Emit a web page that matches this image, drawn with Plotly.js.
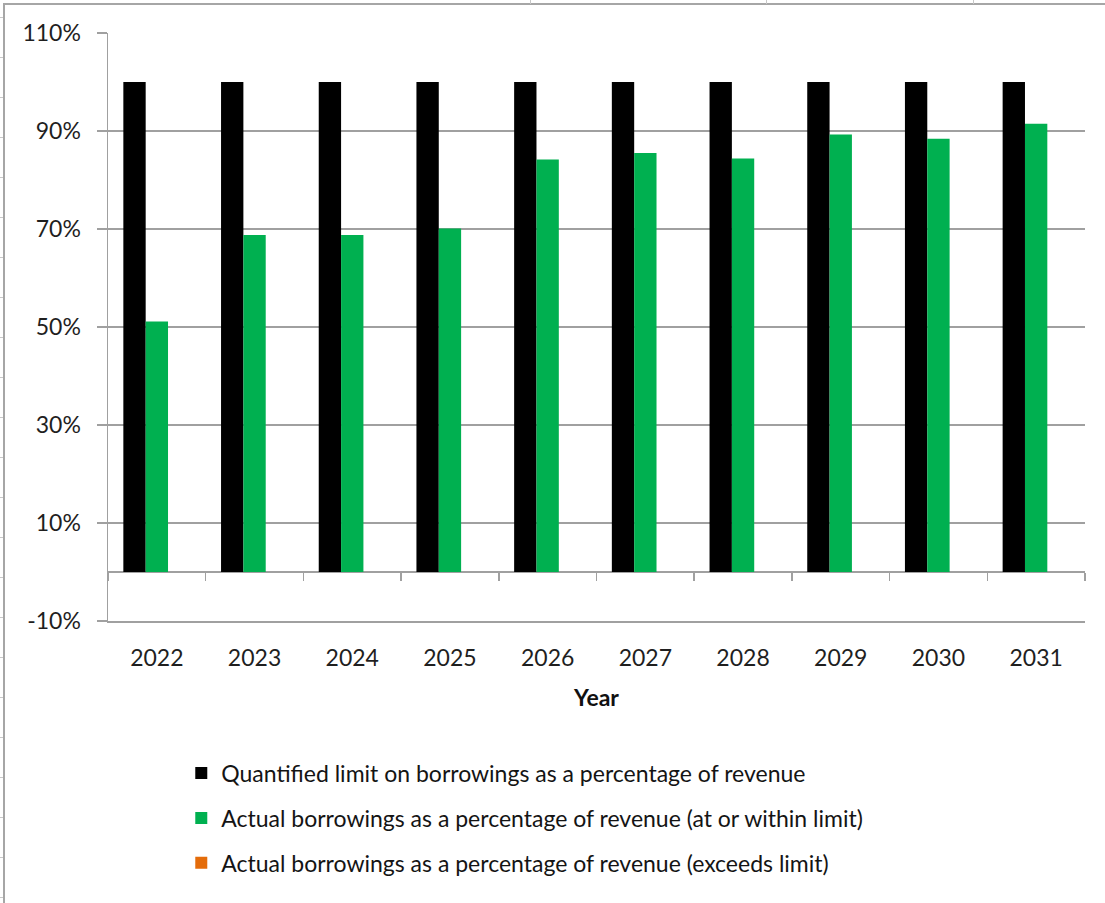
<!DOCTYPE html>
<html>
<head>
<meta charset="utf-8">
<script src="https://cdn.plot.ly/plotly-3.0.1.min.js"></script>
<style>
  html, body { margin: 0; padding: 0; background: #ffffff; }
  #chart { position: absolute; left: 0; top: 0; width: 1105px; height: 903px; }
  #frame { position: absolute; left: 3px; top: 3px; width: 1110px; height: 910px;
           border-top: 2px solid #a6a6a6; border-left: 2px solid #a6a6a6; pointer-events: none; }
  .cellmark { position: absolute; background: #c8c8c8; pointer-events: none; }
</style>
</head>
<body>
<div id="chart"></div>
<div id="frame"></div>
<script>
// ---- data ----
const years = ["2022", "2023", "2024", "2025", "2026", "2027", "2028", "2029", "2030", "2031"];
const limitValues = [100, 100, 100, 100, 100, 100, 100, 100, 100, 100];
const actualWithin = [51.1, 68.8, 68.8, 70.1, 84.2, 85.5, 84.4, 89.3, 88.4, 91.5];
const actualExceeds = [null, null, null, null, null, null, null, null, null, null];
const seriesNames = [
  "Quantified limit on borrowings as a percentage of revenue",
  "Actual borrowings as a percentage of revenue (at or within limit)",
  "Actual borrowings as a percentage of revenue (exceeds limit)"
];
const yTickValues = [-10, 10, 30, 50, 70, 90, 110];

// spreadsheet cell marks outside the chart frame
(function () {
  const topMarks = [530, 766, 973];
  topMarks.forEach(function (x) {
    const d = document.createElement('div');
    d.className = 'cellmark';
    d.style.left = x + 'px'; d.style.top = '0px'; d.style.width = '1px'; d.style.height = '4px';
    document.body.appendChild(d);
  });
  for (let y = 17; y < 903; y += 40) {
    const d = document.createElement('div');
    d.className = 'cellmark';
    d.style.left = '0px'; d.style.top = y + 'px'; d.style.width = '3px'; d.style.height = '1px';
    document.body.appendChild(d);
  }
})();

const FONT = "Lato, 'Open Sans', sans-serif";
const GRID = "#a0a0a0";

const traces = [
  { type: "bar", name: seriesNames[0], x: years, y: limitValues,
    marker: { color: "#000000" }, legendgroup: "a", hoverinfo: "x+y" },
  { type: "bar", name: seriesNames[1], x: years, y: actualWithin,
    marker: { color: "#00b050" }, legendgroup: "b", hoverinfo: "x+y" },
  { type: "bar", name: seriesNames[2], x: years, y: actualExceeds,
    marker: { color: "#e46c0a" }, legendgroup: "c", hoverinfo: "x+y" },
  // carrier for the category-boundary tick axis drawn along the zero line
  { type: "scatter", mode: "lines", x: years, y: actualExceeds, xaxis: "x2",
    showlegend: false, hoverinfo: "skip", line: { color: "rgba(0,0,0,0)" } }
];

const layout = {
  width: 1105, height: 903,
  margin: { l: 108, r: 20, t: 33, b: 282 },
  paper_bgcolor: "#ffffff", plot_bgcolor: "#ffffff",
  font: { family: FONT, color: "#1f1f1f", size: 23 },
  barmode: "group",
  bargap: 0.314,
  bargroupgap: 0,
  showlegend: true,
  legend: {
    orientation: "v",
    x: 0.075, xanchor: "left",
    y: -0.222, yanchor: "top",
    font: { family: FONT, size: 23, color: "#141414" },
    traceorder: "grouped",
    tracegroupgap: 12,
    bgcolor: "rgba(0,0,0,0)"
  },
  xaxis: {
    type: "category",
    range: [-0.5, 9.5],
    showgrid: false,
    zeroline: false,
    showline: true, linecolor: GRID, linewidth: 1.5,
    ticks: "outside", ticklen: 16, tickcolor: "rgba(0,0,0,0)",
    tickfont: { family: FONT, size: 23, color: "#1f1f1f" },
    title: { text: "<b>Year</b>", font: { family: FONT, size: 23, color: "#111111" }, standoff: 20 },
    fixedrange: true
  },
  xaxis2: {
    type: "category",
    overlaying: "x",
    anchor: "free",
    position: 10 / 120,
    side: "bottom",
    range: [-0.5, 9.5],
    showgrid: false, zeroline: false, showline: false,
    ticks: "outside", tickson: "boundaries", ticklen: 8, tickwidth: 1.5, tickcolor: GRID,
    showticklabels: false,
    fixedrange: true
  },
  yaxis: {
    range: [-10, 110],
    tickmode: "array",
    tickvals: yTickValues,
    ticktext: yTickValues.map(function (v) { return v + "%"; }),
    showgrid: true, gridcolor: GRID, gridwidth: 1.5,
    zeroline: true, zerolinecolor: GRID, zerolinewidth: 1.5,
    showline: true, linecolor: GRID, linewidth: 1.5,
    ticks: "outside", ticklen: 10, tickwidth: 1.5, tickcolor: GRID,
    ticklabelstandoff: 11,
    tickfont: { family: FONT, size: 23, color: "#1f1f1f" },
    fixedrange: true
  }
};

Plotly.newPlot("chart", traces, layout, { displayModeBar: false, staticPlot: true });
</script>
</body>
</html>
